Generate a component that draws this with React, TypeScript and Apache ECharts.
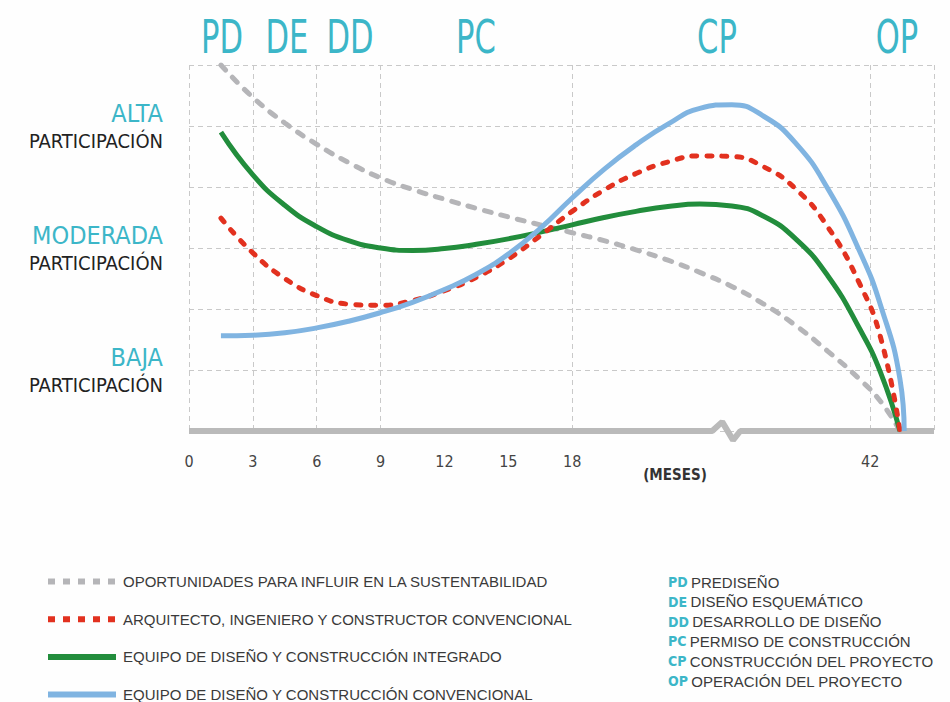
import React, { useEffect, useRef } from "react";
import * as echarts from "echarts";

const NARROW = "'Liberation Sans Narrow', 'DejaVu Sans Condensed', 'Noto Sans', sans-serif";
const SANS = "'Liberation Sans', Arial, sans-serif";
const TEAL = "#3cb6c8";

// x positions on the (broken) display axis; 0..18 are months, 32 = month 42
const xPositions = [1.5, 3, 4.5, 6, 7.5, 9, 10.5, 12, 13.5, 15, 16.5, 18, 19.5, 21, 22.5, 24, 25.5, 27, 28.5, 30, 31.5, 32.5, 33.4];

const oportunidades = [6.0, 5.47, 5.05, 4.7, 4.4, 4.15, 3.96, 3.8, 3.65, 3.51, 3.38, 3.25, 3.12, 2.97, 2.8, 2.6, 2.37, 2.08, 1.73, 1.31, 0.85, 0.48, 0.0];
const convencionalAIC = [3.49, 2.92, 2.5, 2.22, 2.08, 2.06, 2.14, 2.3, 2.52, 2.82, 3.2, 3.6, 3.95, 4.22, 4.41, 4.51, 4.5, 4.33, 3.97, 3.35, 2.42, 1.52, 0.0];
const integrado = [4.9, 4.2, 3.7, 3.35, 3.12, 3.0, 2.96, 2.99, 3.06, 3.15, 3.26, 3.38, 3.5, 3.6, 3.68, 3.72, 3.69, 3.52, 3.15, 2.55, 1.68, 0.95, 0.0];
const convencionalDC = [1.56, 1.57, 1.61, 1.69, 1.8, 1.94, 2.11, 2.32, 2.57, 2.9, 3.32, 3.82, 4.29, 4.69, 5.03, 5.29, 5.35, 5.16, 4.72, 3.98, 2.95, 2.05, 0.85];
const convencionalDCEnd = [33.6, 0.0];

// axis ticks
const tickPositions = [0, 3, 6, 9, 12, 15, 18, 32];
const tickLabels = ["0", "3", "6", "9", "12", "15", "18", "42"];
const gridPositions = [0, 3, 6, 9, 18, 32, 35];

// axis break (x, y) on the display axis
const axisBreak = [[0, 0], [24.58, 0], [25.05, 0.15], [25.56, -0.15], [25.9, 0], [35, 0]];

// participation levels
const levelValues = [1, 3, 5];
const levelNames = ["BAJA", "MODERADA", "ALTA"];

// phases
const phaseCodes = ["PD", "DE", "DD", "PC", "CP", "OP"];
const phaseNames = ["PREDISEÑO", "DISEÑO ESQUEMÁTICO", "DESARROLLO DE DISEÑO", "PERMISO DE CONSTRUCCIÓN", "CONSTRUCCIÓN DEL PROYECTO", "OPERACIÓN DEL PROYECTO"];
const phaseX = [222, 287, 350, 476, 717, 897];

const seriesNames = [
  "OPORTUNIDADES PARA INFLUIR EN LA SUSTENTABILIDAD",
  "ARQUITECTO, INGENIERO Y CONSTRUCTOR CONVENCIONAL",
  "EQUIPO DE DISEÑO Y CONSTRUCCIÓN INTEGRADO",
  "EQUIPO DE DISEÑO Y CONSTRUCCIÓN CONVENCIONAL",
];

const colors = ["#b5b5b8", "#e2311f", "#228d3c", "#80b4e1"];

export default function App() {
  const ref = useRef<HTMLDivElement>(null);
  useEffect(() => {
    if (!ref.current) return;
    const chart = echarts.init(ref.current, null, { renderer: "svg" });
    const pair = (vals: number[]) => xPositions.map((x, i) => [x, vals[i]]);
    const splitColors: string[] = [];
    for (let i = 0; i <= 35; i++) splitColors.push(gridPositions.includes(i) ? "#c9c9c9" : "rgba(0,0,0,0)");

    const phaseGraphics: any[] = [];
    phaseCodes.forEach((c, i) => {
      phaseGraphics.push({
        type: "text",
        x: phaseX[i],
        y: 38,
        scaleY: 1.35,
        style: { text: c, fill: TEAL, font: `34px ${NARROW}`, textAlign: "center", textVerticalAlign: "middle" },
      });
      phaseGraphics.push({
        type: "text",
        x: 668,
        y: 582 + i * 19.8,
        style: {
          text: `{a|${c}} {b|${phaseNames[i]}}`,
          textVerticalAlign: "middle",
          rich: {
            a: { fill: TEAL, font: `bold 14px ${NARROW}` },
            b: { fill: "#3a3a3a", font: `15px ${SANS}` },
          },
        },
      });
    });

    chart.setOption({
      animation: false,
      backgroundColor: "#fefefe",
      grid: { left: 189, right: 16, top: 65, bottom: 271 },
      xAxis: {
        type: "value",
        min: 0,
        max: 35,
        interval: 1,
        axisLine: { show: false },
        axisTick: { show: false },
        axisLabel: {
          margin: 22,
          color: "#444",
          fontFamily: NARROW,
          fontSize: 16,
          formatter: (v: number) => {
            const k = tickPositions.indexOf(Math.round(v));
            return k >= 0 ? tickLabels[k] : "";
          },
        },
        splitLine: { show: true, lineStyle: { color: splitColors, type: [5, 4], width: 1 } },
      },
      yAxis: {
        type: "value",
        min: 0,
        max: 6,
        interval: 1,
        axisLine: { show: false },
        axisTick: { show: false },
        axisLabel: {
          margin: 26,
          formatter: (v: number) => {
            const k = levelValues.indexOf(v);
            return k >= 0 ? `{a|${levelNames[k]}}\n{b|PARTICIPACIÓN}` : "";
          },
          rich: {
            a: { color: TEAL, fontFamily: NARROW, fontSize: 25, lineHeight: 30, align: "right", verticalAlign: "bottom" },
            b: { color: "#222", fontFamily: NARROW, fontSize: 20, lineHeight: 30, align: "right" },
          },
        },
        splitLine: { show: true, lineStyle: { color: "#c9c9c9", type: [5, 4], width: 1 } },
      },
      legend: {
        orient: "vertical",
        left: 45,
        top: 574,
        height: 200,
        padding: 0,
        itemWidth: 68,
        itemHeight: 14,
        itemGap: 22.7,
        itemStyle: { opacity: 0 },
        textStyle: { color: "#3a3a3a", fontFamily: SANS, fontSize: 15, lineHeight: 14, padding: [0, 0, 0, 2] },
        data: [
          { name: seriesNames[0], lineStyle: { type: [7, 8], width: 6, cap: "butt" } },
          { name: seriesNames[1], lineStyle: { type: [7, 8], width: 6, cap: "butt" } },
          { name: seriesNames[2], lineStyle: { width: 6 } },
          { name: seriesNames[3], lineStyle: { width: 6 } },
        ],
      },
      graphic: [
        ...phaseGraphics,
        {
          type: "text",
          x: 675,
          y: 475,
          style: { text: "(MESES)", fill: "#333", font: `bold 15px ${NARROW}`, textAlign: "center", textVerticalAlign: "middle" },
        },
      ],
      series: [
        {
          type: "line",
          silent: true,
          data: axisBreak,
          clip: false,
          symbol: "none",
          lineStyle: { color: "#bababa", width: 6 },
          z: 1,
        },
        {
          name: seriesNames[0],
          type: "line",
          data: pair(oportunidades),
          smooth: true,
          symbol: "none",
          color: colors[0],
          lineStyle: { color: colors[0], width: 5, type: [7, 10], cap: "round" },
          z: 2,
        },
        {
          name: seriesNames[2],
          type: "line",
          data: pair(integrado),
          smooth: true,
          symbol: "none",
          color: colors[2],
          lineStyle: { color: colors[2], width: 5 },
          z: 3,
        },
        {
          name: seriesNames[1],
          type: "line",
          data: pair(convencionalAIC),
          smooth: true,
          symbol: "none",
          color: colors[1],
          lineStyle: { color: colors[1], width: 5, type: [5, 10], cap: "round" },
          z: 4,
        },
        {
          name: seriesNames[3],
          type: "line",
          data: [...pair(convencionalDC), convencionalDCEnd],
          smooth: true,
          symbol: "none",
          color: colors[3],
          lineStyle: { color: colors[3], width: 5 },
          z: 5,
        },
      ],
    });
    return () => chart.dispose();
  }, []);
  return <div ref={ref} style={{ position: "absolute", left: 0, top: 0, width: 950, height: 702 }} />;
}
